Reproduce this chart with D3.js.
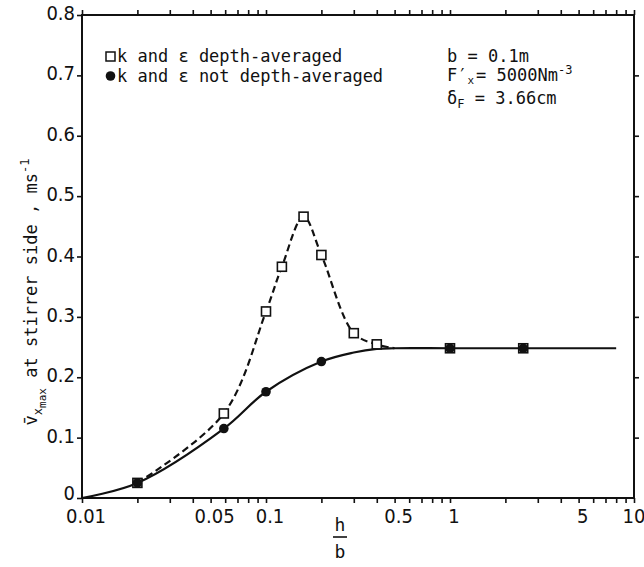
<!DOCTYPE html>
<html><head><meta charset="utf-8">
<script src="https://cdn.jsdelivr.net/npm/d3@7"></script>
<style>body{margin:0;background:#fff}svg{display:block}</style>
</head><body><svg id="c" width="644" height="567"></svg>
<script>
// ---- data ----
const squareH = [0.02, 0.059, 0.1, 0.122, 0.16, 0.2, 0.3, 0.4, 1, 2.5];
const squareV = [0.025, 0.140, 0.309, 0.383, 0.466, 0.4025, 0.273, 0.2545, 0.248, 0.248];
const circleH = [0.02, 0.059, 0.1, 0.2, 1, 2.5];
const circleV = [0.025, 0.115, 0.176, 0.226, 0.248, 0.248];
const dashedCurveH = [0.02, 0.059, 0.1, 0.122, 0.16, 0.2, 0.3, 0.4, 0.5];
const dashedCurveV = [0.025, 0.140, 0.309, 0.383, 0.466, 0.4025, 0.273, 0.2545, 0.248];
const solidCurveH = [0.01, 0.02, 0.059, 0.1, 0.2, 0.3, 0.4, 0.5, 1, 2.5, 8];
const solidCurveV = [0, 0.025, 0.115, 0.176, 0.226, 0.241, 0.247, 0.248, 0.248, 0.248, 0.248];
const xTickLabels = ["0.01", "0.05", "0.1", "0.5", "1", "5", "10"];
const yTickLabels = ["0", "0.1", "0.2", "0.3", "0.4", "0.5", "0.6", "0.7", "0.8"];
const legendLabels = ["k and \u03b5 depth-averaged", "k and \u03b5 not depth-averaged"];

const svg = d3.select("#c");
const L = 82, R = 634, T = 15, B = 498;
const x = d3.scaleLog().domain([0.01, 10]).range([L, R]);
const y = d3.scaleLinear().domain([0, 0.8]).range([B, T]);
const numFont = "'Liberation Sans Narrow','Arial Narrow','DejaVu Sans Condensed',sans-serif";
const txtFont = "'DejaVu Sans Mono',monospace";
const ink = "#111";

// frame
svg.append("rect").attr("x", L).attr("y", T).attr("width", R - L).attr("height", B - T)
  .attr("fill", "none").attr("stroke", ink).attr("stroke-width", 2);

// axes (ticks outward on all sides)
const xt = x.ticks();
const yt = yTickLabels.map(Number);
const styleAxis = g => { g.select(".domain").remove(); g.selectAll("line").attr("stroke", ink).attr("stroke-width", 1.6); };
svg.append("g").attr("transform", `translate(0,${B})`)
  .call(d3.axisBottom(x).tickValues(xt).tickSize(5).tickFormat("")).call(styleAxis);
svg.append("g").attr("transform", `translate(0,${T})`)
  .call(d3.axisTop(x).tickValues(xt).tickSize(5).tickFormat("")).call(styleAxis);
svg.append("g").attr("transform", `translate(${L},0)`)
  .call(d3.axisLeft(y).tickValues(yt).tickSize(5).tickFormat("")).call(styleAxis);
svg.append("g").attr("transform", `translate(${R},0)`)
  .call(d3.axisRight(y).tickValues(yt.slice(1, -1)).tickSize(5).tickFormat("")).call(styleAxis);

// tick labels
svg.append("g").selectAll("text").data(xTickLabels).join("text")
  .attr("x", d => x(+d) + (d === "10" ? 0 : 4)).attr("y", 523)
  .attr("text-anchor", "middle").attr("font-family", numFont).attr("font-size", 20).attr("fill", ink)
  .text(d => d);
svg.append("g").selectAll("text").data(yTickLabels).join("text")
  .attr("x", 75).attr("y", d => y(+d) + (+d === 0 ? 2 : 5))
  .attr("text-anchor", "end").attr("font-family", numFont).attr("font-size", 20).attr("fill", ink)
  .text(d => d);

// curves
const pts = (hs, vs) => hs.map((h, i) => [x(h), y(vs[i])]);
const line = d3.line().curve(d3.curveCatmullRom.alpha(0.5));
svg.append("path").attr("d", line(pts(solidCurveH, solidCurveV)))
  .attr("fill", "none").attr("stroke", ink).attr("stroke-width", 2.2);
svg.append("path").attr("d", line(pts(dashedCurveH, dashedCurveV)))
  .attr("fill", "none").attr("stroke", ink).attr("stroke-width", 2.2).attr("stroke-dasharray", "7,4");

// markers
const sq = 9;
svg.append("g").selectAll("rect").data(squareH.map((h, i) => [h, squareV[i]])).join("rect")
  .attr("x", d => x(d[0]) - sq / 2).attr("y", d => y(d[1]) - sq / 2)
  .attr("width", sq).attr("height", sq).attr("fill", "#fff").attr("stroke", ink).attr("stroke-width", 1.6);
svg.append("g").selectAll("circle").data(circleH.map((h, i) => [h, circleV[i]])).join("circle")
  .attr("cx", d => x(d[0])).attr("cy", d => y(d[1])).attr("r", 4.8).attr("fill", ink);

// legend
svg.append("rect").attr("x", 106).attr("y", 52).attr("width", sq).attr("height", sq)
  .attr("fill", "#fff").attr("stroke", ink).attr("stroke-width", 1.5);
svg.append("circle").attr("cx", 110.5).attr("cy", 76).attr("r", 4.8).attr("fill", ink);
svg.append("g").selectAll("text").data(legendLabels).join("text")
  .attr("x", 117).attr("y", (d, i) => 62 + i * 20)
  .attr("font-family", txtFont).attr("font-size", 17).attr("fill", ink).text(d => d);

// parameters block
const pf = svg.append("g").attr("font-family", txtFont).attr("font-size", 17).attr("fill", ink);
pf.append("text").attr("x", 447).attr("y", 62).text("b = 0.1m");
const t2 = pf.append("text").attr("x", 447).attr("y", 81);
t2.append("tspan").text("F\u2032");
t2.append("tspan").attr("font-size", 11).attr("dy", 3).text("x");
t2.append("tspan").attr("dy", -3).attr("dx", 2).text("= 5000Nm");
t2.append("tspan").attr("font-size", 12).attr("dy", -7).text("-3");
const t3 = pf.append("text").attr("x", 447).attr("y", 104);
t3.append("tspan").text("\u03b4");
t3.append("tspan").attr("font-size", 12).attr("dy", 4).text("F");
t3.append("tspan").attr("dy", -4).text(" = 3.66cm");

// y-axis title (rotated)
const yt1 = svg.append("text").attr("transform", "translate(37,292) rotate(-90)")
  .attr("text-anchor", "middle").attr("font-family", txtFont).attr("font-size", 17).attr("fill", ink);
yt1.append("tspan").text("v\u0304");
yt1.append("tspan").attr("font-size", 12).attr("dy", 5).text("x");
yt1.append("tspan").attr("font-size", 11).attr("dy", 4).text("max");
yt1.append("tspan").attr("dy", -9).text(" at stirrer side , ms");
yt1.append("tspan").attr("font-size", 12).attr("dy", -8).text("-1");

// x-axis title h / b
const xc = 340;
svg.append("text").attr("x", xc).attr("y", 531).attr("text-anchor", "middle")
  .attr("font-family", txtFont).attr("font-size", 18).attr("fill", ink).text("h");
svg.append("line").attr("x1", xc - 7).attr("x2", xc + 7).attr("y1", 537).attr("y2", 537)
  .attr("stroke", ink).attr("stroke-width", 1.6);
svg.append("text").attr("x", xc).attr("y", 558).attr("text-anchor", "middle")
  .attr("font-family", txtFont).attr("font-size", 18).attr("fill", ink).text("b");
</script></body></html>
